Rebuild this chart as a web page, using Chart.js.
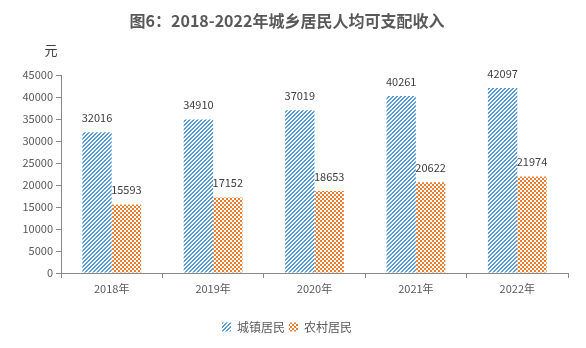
<!DOCTYPE html>
<html>
<head>
<meta charset="utf-8">
<script src="https://cdn.jsdelivr.net/npm/chart.js@4"></script>
<style>
  html, body { margin: 0; padding: 0; background: #fff; }
  .chart-container { width: 586px; height: 348px; }
</style>
</head>
<body>
<div class="chart-container"><canvas id="myChart"></canvas></div>
<script>
const years = ['2018年', '2019年', '2020年', '2021年', '2022年'];
const urban = [32016, 34910, 37019, 40261, 42097];
const rural = [15593, 17152, 18653, 20622, 21974];
const yTicks = [0, 5000, 10000, 15000, 20000, 25000, 30000, 35000, 40000, 45000];

const FONT = "'Noto Sans CJK SC', 'Noto Sans', sans-serif";

// 4x4 tiles: blue upward diagonal stripes, orange small checkerboard
const makePattern = (color, test) => {
    const c = document.createElement('canvas');
    c.width = 4; c.height = 4;
    const g = c.getContext('2d');
    g.fillStyle = '#fff';
    g.fillRect(0, 0, 4, 4);
    g.fillStyle = color;
    for (let x = 0; x < 4; x++) {
        for (let y = 0; y < 4; y++) {
            if (test(x, y)) g.fillRect(x, y, 1, 1);
        }
    }
    return g.createPattern(c, 'repeat');
};
const stripes = makePattern('#5B9BD5', (x, y) => (x + y) % 4 < 2);
const checks = makePattern('#ED7D31', (x, y) => (Math.floor(x / 2) + Math.floor(y / 2)) % 2 === 0);

// value labels above bars + unit label above the y axis
const labelsPlugin = {
    id: 'barLabels',
    afterDatasetsDraw(chart) {
        const ctx = chart.ctx;
        ctx.save();
        ctx.font = '11px ' + FONT;
        ctx.fillStyle = '#404040';
        ctx.textAlign = 'center';
        ctx.textBaseline = 'bottom';
        chart.data.datasets.forEach((ds, i) => {
            chart.getDatasetMeta(i).data.forEach((bar, j) => {
                ctx.fillText(ds.data[j], bar.x, bar.y - 9);
            });
        });
        ctx.font = '13px ' + FONT;
        ctx.fillStyle = '#404040';
        ctx.textAlign = 'center';
        ctx.textBaseline = 'middle';
        const area = chart.chartArea;
        ctx.fillText('元', area.left - 10, area.top - 25);
        ctx.restore();
    }
};

const ch = document.getElementById('myChart');
new Chart(ch, {
    type: 'bar',
    data: {
        labels: years,
        datasets: [{
            label: '城镇居民',
            data: urban,
            backgroundColor: stripes,
            borderWidth: 0
        }, {
            label: '农村居民',
            data: rural,
            backgroundColor: checks,
            borderWidth: 0
        }]
    },
    options: {
        responsive: true,
        maintainAspectRatio: false,
        animation: false,
        layout: { padding: { left: 6, right: 18, top: 0, bottom: 5 } },
        datasets: {
            bar: { categoryPercentage: 0.58, barPercentage: 1.0 }
        },
        plugins: {
            title: {
                display: true,
                text: '图6：2018-2022年城乡居民人均可支配收入',
                color: '#595959',
                font: { family: FONT, size: 16, weight: 'bold' },
                padding: { top: 11, bottom: 45 }
            },
            legend: {
                position: 'bottom',
                labels: {
                    color: '#595959',
                    font: { family: FONT, size: 12 },
                    boxWidth: 9,
                    boxHeight: 9,
                    padding: 4
                }
            },
            tooltip: { enabled: false }
        },
        scales: {
            x: {
                offset: true,
                grid: {
                    offset: true,
                    drawOnChartArea: false,
                    drawTicks: true,
                    tickLength: 5,
                    color: '#898989'
                },
                border: { color: '#898989', width: 1 },
                ticks: {
                    color: '#595959',
                    font: { family: FONT, size: 11 },
                    padding: 4
                },
                afterFit: (s) => { s.height = 44; }
            },
            y: {
                min: 0,
                max: 45000,
                afterBuildTicks: (s) => { s.ticks = yTicks.map(v => ({ value: v })); },
                grid: {
                    drawOnChartArea: false,
                    drawTicks: true,
                    tickLength: 5,
                    color: '#898989'
                },
                border: { color: '#898989', width: 1 },
                ticks: {
                    color: '#595959',
                    font: { family: FONT, size: 11 },
                    padding: 3,
                    callback: (v) => String(v)
                },
                afterFit: (s) => { s.width = 55; }
            }
        }
    },
    plugins: [labelsPlugin]
});
</script>
</body>
</html>
